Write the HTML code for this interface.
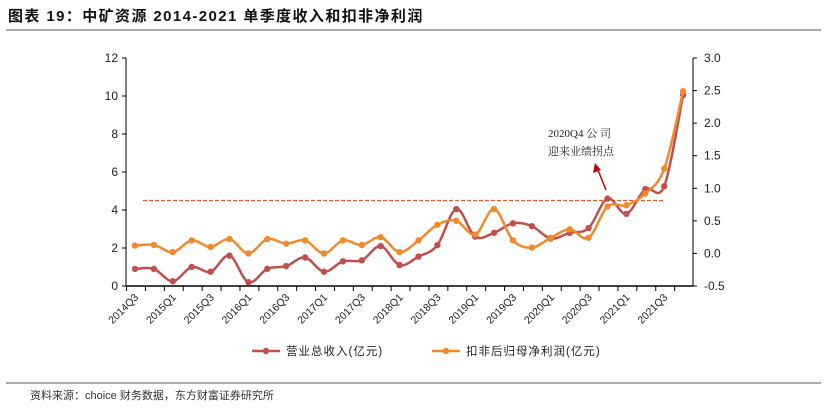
<!DOCTYPE html>
<html><head><meta charset="utf-8"><style>
body{margin:0;background:#fff;width:827px;height:409px;overflow:hidden;font-family:"Liberation Sans","Noto Sans CJK SC",sans-serif}
</style></head><body>
<svg width="827" height="409" xmlns="http://www.w3.org/2000/svg">
<text x="8" y="21" font-size="15" font-weight="bold" fill="#111" letter-spacing="1.4" font-family="Liberation Sans,Noto Sans CJK SC,sans-serif">图表 19：中矿资源 2014-2021 单季度收入和扣非净利润</text>
<line x1="6" y1="30" x2="821" y2="30" stroke="#555" stroke-width="1"/>
<line x1="6" y1="383" x2="821" y2="383" stroke="#555" stroke-width="1"/>
<text x="30" y="399" font-size="11" fill="#333" font-family="Liberation Sans,Noto Sans CJK SC,sans-serif">资料来源：choice 财务数据，东方财富证券研究所</text>
<g id="plot"></g>
</svg>
<script>
const categories=["2014Q3","2014Q4","2015Q1","2015Q2","2015Q3","2015Q4","2016Q1","2016Q2","2016Q3","2016Q4","2017Q1","2017Q2","2017Q3","2017Q4","2018Q1","2018Q2","2018Q3","2018Q4","2019Q1","2019Q2","2019Q3","2019Q4","2020Q1","2020Q2","2020Q3","2020Q4","2021Q1","2021Q2","2021Q3","2021Q4"];
const revenue=[0.9,0.9,0.25,1.0,0.75,1.6,0.2,0.9,1.05,1.5,0.75,1.3,1.35,2.1,1.1,1.55,2.15,4.05,2.6,2.8,3.3,3.15,2.5,2.8,3.05,4.6,3.8,5.1,5.25,10.05];
const profit=[0.12,0.13,0.02,0.2,0.1,0.22,0.0,0.22,0.15,0.2,0.0,0.2,0.13,0.25,0.02,0.2,0.44,0.5,0.29,0.68,0.2,0.09,0.24,0.37,0.24,0.72,0.74,0.92,1.3,2.49];
const leftTicks=[0,2,4,6,8,10,12];
const rightTicks=["-0.5","0.0","0.5","1.0","1.5","2.0","2.5","3.0"];
const refLine=4.5;
const NS="http://www.w3.org/2000/svg";
const g=document.getElementById('plot');
const X0=135,DX=18.9,Y0=286,YT=58,L=126,R=693;
const x=i=>X0+DX*i;
const yL=v=>Y0-(Y0-YT)*v/12;
const yR=v=>Y0-(Y0-YT)*(v+0.5)/3.5;
function mk(t,a){const e=document.createElementNS(NS,t);for(const k in a)e.setAttribute(k,a[k]);g.appendChild(e);return e;}
let e;
e=mk('line',{x1:L,y1:YT,x2:L,y2:Y0,stroke:'#000'});


e=mk('line',{x1:R,y1:YT,x2:R,y2:Y0,stroke:'#000'});


e=mk('line',{x1:L,y1:Y0,x2:R,y2:Y0,stroke:'#000','stroke-width':1.5});


leftTicks.forEach(v=>{const y=yL(v);mk('line',{x1:L-4,y1:y,x2:L,y2:y,stroke:'#000'});
e=mk('text',{x:L-8,y:y+4,'font-size':12,'text-anchor':'end',fill:'#222'});e.textContent=v;

});
rightTicks.forEach(v=>{const y=yR(parseFloat(v));mk('line',{x1:R,y1:y,x2:R+4,y2:y,stroke:'#000'});
e=mk('text',{x:R+11,y:y+4,'font-size':12,fill:'#222'});e.textContent=v;

});
categories.forEach((c,i)=>{const xx=x(i);const tx=xx-DX/2+1;mk('line',{x1:tx,y1:Y0,x2:tx,y2:Y0+5,stroke:'#000'});
if(i%2===0){e=mk('text',{x:xx+4,y:Y0+12,'font-size':10.5,'text-anchor':'end',fill:'#222',transform:`rotate(-45 ${xx+4} ${Y0+12})`});e.textContent=c;

}});
e=mk('line',{x1:143,y1:yL(refLine),x2:665,y2:yL(refLine),stroke:'#f05a28','stroke-dasharray':'4,2','stroke-width':1.3});


function smooth(pts){let d=`M${pts[0][0]},${pts[0][1]}`;for(let i=0;i<pts.length-1;i++){const p0=pts[i-1]||pts[i],p1=pts[i],p2=pts[i+1],p3=pts[i+2]||p2;const t=0.17;
d+=` C${p1[0]+(p2[0]-p0[0])*t},${p1[1]+(p2[1]-p0[1])*t} ${p2[0]-(p3[0]-p1[0])*t},${p2[1]-(p3[1]-p1[1])*t} ${p2[0]},${p2[1]}`;}return d;}
function series(vals,fy,col,name){const pts=vals.map((v,i)=>[x(i),fy(v)]);
e=mk('path',{d:smooth(pts),fill:'none',stroke:col,'stroke-width':2.5});


pts.forEach(p=>{e=mk('circle',{cx:p[0],cy:p[1],r:3.2,fill:col});

});}
series(revenue,yL,'#c0504d','revenue');
series(profit,yR,'#f08a2c','profit');
e=mk('line',{x1:606,y1:190,x2:598,y2:170,stroke:'#c00000','stroke-width':1.5});


e=mk('polygon',{points:'595,163 593,173 601,170',fill:'#c00000'});


e=mk('text',{x:548,y:137,'font-size':11,fill:'#222','font-family':'Liberation Serif,Noto Serif CJK SC,serif'});e.textContent='2020Q4  公 司';


e=mk('text',{x:548,y:155,'font-size':11,fill:'#222','font-family':'Liberation Serif,Noto Serif CJK SC,serif'});e.textContent='迎来业绩拐点';


[[252,'#c0504d','营业总收入(亿元)','legend-revenue'],[432,'#f08a2c','扣非后归母净利润(亿元)','legend-profit']].forEach(l=>{
e=mk('line',{x1:l[0],y1:351,x2:l[0]+28,y2:351,stroke:l[1],'stroke-width':2.5});


mk('circle',{cx:l[0]+14,cy:351,r:3.2,fill:l[1]});
e=mk('text',{x:l[0]+34,y:355,'font-size':11.5,fill:'#222','letter-spacing':'1'});e.textContent=l[2];

});
</script>
</body></html>
